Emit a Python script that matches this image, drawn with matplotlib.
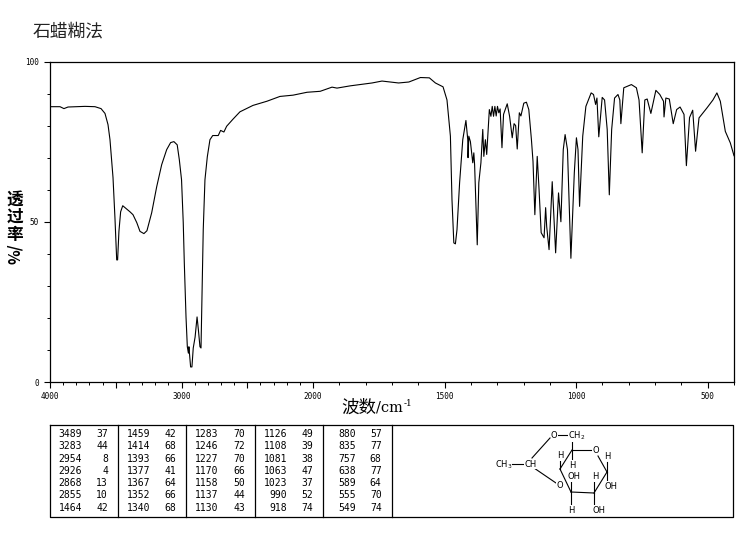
import matplotlib
matplotlib.use("Agg")
import numpy as np
from matplotlib import pyplot as plt

plt.rcParams['font.family'] = ['Noto Sans CJK SC', 'DejaVu Sans']

title = "石蜡糊法"

wavenumber = [4000, 3924, 3894, 3863, 3734, 3658, 3612, 3582, 3559, 3544, 3521, 3506, 3493, 3486, 3476,
              3463, 3447, 3430, 3392, 3369, 3340, 3316, 3286, 3263, 3227, 3189, 3151, 3113, 3083, 3058,
              3033, 3017, 3000, 2987, 2979, 2966, 2956, 2948, 2944, 2936, 2931, 2921, 2911, 2897, 2882,
              2872, 2860, 2852, 2847, 2835, 2822, 2804, 2784, 2763, 2721, 2703, 2678, 2657, 2609, 2556,
              2457, 2351, 2252, 2152, 2046, 1973, 1928, 1909, 1859, 1776, 1738, 1675, 1636, 1592, 1558,
              1535, 1506, 1491, 1478, 1472, 1465, 1459, 1453, 1443, 1431, 1419, 1412, 1411, 1408, 1402,
              1393, 1389, 1386, 1376, 1370, 1362, 1355, 1351, 1345, 1340, 1335, 1330, 1324, 1319, 1314,
              1309, 1304, 1299, 1294, 1289, 1282, 1276, 1262, 1253, 1243, 1236, 1230, 1224, 1216, 1210,
              1199, 1189, 1180, 1170, 1164, 1157, 1148, 1141, 1133, 1122, 1116, 1112, 1103, 1091, 1078,
              1067, 1058, 1049, 1042, 1033, 1020, 1007, 999, 993, 987, 975, 963, 943, 934, 926,
              921, 914, 901, 892, 882, 874, 865, 854, 841, 834, 830, 819, 790, 771, 761,
              749, 739, 730, 716, 697, 682, 668, 666, 659, 646, 631, 618, 605, 590, 581,
              569, 557, 546, 533, 503, 480, 465, 452, 433, 414, 400]
transmittance = [85.9, 85.9, 85.3, 85.8, 86, 85.9, 85.3, 83.8, 80.3, 75.6, 63.8, 51, 38.1, 38.1, 47,
                 53.1, 55, 54.4, 53.1, 52.2, 49.7, 47, 46.3, 47.2, 52.8, 60.9, 67.8, 72.5, 74.7, 75,
                 74, 69.4, 63.1, 49.7, 37.2, 20.3, 11, 9, 11, 6.9, 4.7, 4.7, 10.6, 14, 20.3,
                 16.3, 11, 10.6, 21.6, 47.5, 63.1, 70.3, 75.6, 76.9, 76.9, 78.5, 78, 79.8, 82, 84.3,
                 86.3, 87.6, 89.1, 89.5, 90.4, 90.7, 92, 91.7, 92.4, 93.3, 93.9, 93.3, 93.6, 95, 94.9,
                 93.3, 92.1, 88, 76.7, 56.9, 43.4, 43.1, 47.5, 62.2, 75.6, 81.6, 75.6, 70, 76.7, 75,
                 68.4, 71.5, 67.8, 42.8, 62.2, 68.4, 78.8, 70.4, 75.6, 71, 77.8, 85, 82.9, 86, 82.9,
                 86, 83, 86, 84, 85.2, 73.1, 83.5, 86.8, 82.9, 76.2, 80.6, 80, 72.7, 84, 83,
                 87, 87.3, 85, 75.6, 68.8, 52.2, 70.4, 60, 46.6, 45, 54.4, 48.5, 41.3, 62.5, 40.3,
                 59, 50, 72.5, 77.2, 72.5, 38.6, 65.3, 76.2, 72.5, 54.8, 76.7, 86, 90.2, 89.7, 86.6,
                 88.6, 76.5, 88.8, 88, 78.8, 58.4, 78.8, 88.6, 89.7, 88, 80.6, 91.8, 92.8, 91.8, 88,
                 71.5, 88, 88.3, 83.8, 91, 89.7, 87.6, 82.7, 88.6, 88.3, 80.6, 85, 85.8, 83.5, 67.5,
                 82.5, 84.8, 72, 82.4, 85.5, 88, 90.2, 87.6, 78.2, 74.6, 70.6]

peak_columns = [
    [("3489", "37"), ("3283", "44"), ("2954", "8"), ("2926", "4"), ("2868", "13"), ("2855", "10"), ("1464", "42")],
    [("1459", "42"), ("1414", "68"), ("1393", "66"), ("1377", "41"), ("1367", "64"), ("1352", "66"), ("1340", "68")],
    [("1283", "70"), ("1246", "72"), ("1227", "70"), ("1170", "66"), ("1158", "50"), ("1137", "44"), ("1130", "43")],
    [("1126", "49"), ("1108", "39"), ("1081", "38"), ("1063", "47"), ("1023", "37"), ("990", "52"), ("918", "74")],
    [("880", "57"), ("835", "77"), ("757", "68"), ("638", "77"), ("589", "64"), ("555", "70"), ("549", "74")],
]

x_major = [4000, 3500, 3000, 2500, 2000, 1500, 1000, 500]
x_labels = ["4000", "", "3000", "", "2000", "1500", "1000", "500"]


# the wavenumber axis doubles its scale below 2000
def forward(x):
    x = np.asarray(x, dtype=float)
    return np.where(x >= 2000, x + 2000, x * 2)


def inverse(u):
    u = np.asarray(u, dtype=float)
    return np.where(u >= 4000, u - 2000, u / 2)


W, H = 743, 539
fig = plt.figure(figsize=(W / 100, H / 100), dpi=100)

ax = fig.add_axes([50 / W, 1 - 382 / H, 684 / W, 320.5 / H])
ax.plot(wavenumber, transmittance, color="black", lw=0.8)
ax.set_xscale("function", functions=(forward, inverse))
ax.set_xlim(4000, 400)
ax.set_ylim(0, 100)
ax.set_xticks(x_major)
ax.set_xticklabels(x_labels, family="DejaVu Sans Mono", fontsize=5.5)
ax.set_xticks(np.arange(400, 4000, 100), minor=True)
ax.set_yticks([0, 50, 100])
ax.set_yticklabels(["0", "50", "100"], family="DejaVu Sans Mono", fontsize=5.5)
ax.set_yticks(np.arange(0, 101, 10), minor=True)
ax.tick_params(axis="x", which="major", length=4, width=0.8, pad=3)
ax.tick_params(axis="y", which="major", length=4.5, width=0.8, pad=3.5)
ax.tick_params(axis="both", which="minor", length=2, width=0.7)
for s in ax.spines.values():
    s.set_linewidth(0.9)

# overlay in pixel coordinates for the text, table and structure
ov = fig.add_axes([0, 0, 1, 1])
ov.set_xlim(0, W)
ov.set_ylim(H, 0)
ov.axis("off")

ov.text(33, 31, title, fontsize=12.8, va="center", ha="left", color="#222222")
ov.text(341, 407.5, "波数", fontsize=12.6, va="center", ha="left")
ov.text(376, 407.5, "/cm", fontsize=10.5, va="center", ha="left", family="DejaVu Serif")
ov.text(403.5, 404, "-1", fontsize=6.5, va="center", ha="left", family="DejaVu Serif")
for ch, y in zip("透过率", [200, 217, 235]):
    ov.text(15, y, ch, fontsize=12, va="center", ha="center", weight="bold")
ov.text(15, 254, "%/", fontsize=11, va="center", ha="center", rotation=90, weight="bold")

# peak table
ov.plot([50, 733, 733, 50, 50], [425, 425, 517, 517, 425], color="black", lw=0.9)
for x in [118, 186, 255, 323, 392]:
    ov.plot([x, x], [425, 517], color="black", lw=0.9)
for c, col in enumerate(peak_columns):
    x0 = 50 + c * 68.4
    for r, (wn, t) in enumerate(col):
        y = 434 + r * 12.3
        ov.text(x0 + 32, y, wn, ha="right", va="center", fontsize=7, family="DejaVu Sans Mono")
        ov.text(x0 + 58, y, t, ha="right", va="center", fontsize=7, family="DejaVu Sans Mono")

# structure
bonds = [
    (558, 435, 569, 435), (550, 438, 532, 458), (512, 464, 524, 464), (534, 468, 556, 483),
    (572, 450, 591, 450), (572, 450, 560, 469), (560, 469, 571, 492), (571, 492, 594, 493),
    (594, 493, 607, 472), (607, 472, 598, 456), (572, 440, 572, 450), (572, 450, 572, 461),
    (560, 460, 560, 469), (571, 482, 571, 492), (571, 492, 571, 507), (594, 493, 594, 507),
    (594, 482, 594, 493), (607, 462, 607, 472), (607, 472, 607, 483),
]
for x1, y1, x2, y2 in bonds:
    ov.plot([x1, x2], [y1, y2], color="black", lw=0.8)

labels = [
    (554.3, 435, "O"), (577, 435.5, "CH$_2$"), (596.3, 450.3, "O"), (607.7, 456.3, "H"),
    (560.3, 455.7, "H"), (572.3, 465, "H"), (503.3, 464.3, "CH$_3$"), (530.7, 464.3, "CH"),
    (574.3, 476.7, "OH"), (595.7, 476.7, "H"), (560, 485.3, "O"), (611, 486.3, "OH"),
    (571.7, 510.3, "H"), (598.7, 510.3, "OH"),
]
for x, y, s in labels:
    ov.text(x, y, s, ha="center", va="center", fontsize=6, family="DejaVu Sans",
            bbox=dict(facecolor="white", edgecolor="none", pad=0.3))

fig.savefig("out.png", dpi=100)
